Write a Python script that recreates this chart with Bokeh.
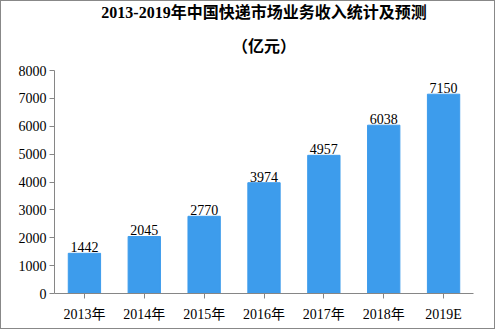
from bokeh.plotting import figure
from bokeh.models import Range1d, FixedTicker, ColumnDataSource, LabelSet, Title
from bokeh.embed import file_html
from bokeh.resources import INLINE

years = ["2013年", "2014年", "2015年", "2016年", "2017年", "2018年", "2019E"]
revenue = [1442, 2045, 2770, 3974, 4957, 6038, 7150]
y_ticks = [0, 1000, 2000, 3000, 4000, 5000, 6000, 7000, 8000]
title_line1 = "2013-2019年中国快递市场业务收入统计及预测"
title_line2 = "（亿元）"

FONT = "'Liberation Serif', 'Noto Sans CJK SC', serif"

src = ColumnDataSource(dict(x=years, y=revenue, lab=[str(v) for v in revenue]))

p = figure(width=495, height=329, x_range=years, y_range=Range1d(0, 8000),
           output_backend="svg", toolbar_location=None,
           min_border_left=53, min_border_right=23, min_border_top=0, min_border_bottom=37)

p.title.visible = False
t2 = Title(text=title_line2, align="center", text_font=FONT, text_font_size="16px",
           text_font_style="bold", text_color="#000000", standoff=31)
t1 = Title(text=title_line1, align="center", text_font=FONT, text_font_size="16px",
           text_font_style="bold", text_color="#000000", standoff=0)
p.add_layout(t2, "above")
p.add_layout(t1, "above")

p.vbar(x="x", top="y", width=0.54, source=src, color="#3d9cec")
p.add_layout(LabelSet(x="x", y="y", text="lab", source=src, text_align="center",
                      text_baseline="bottom", y_offset=1, text_font=FONT,
                      text_font_size="14px", text_color="#000000"))

p.grid.visible = False
p.outline_line_color = None
p.background_fill_color = "white"
p.border_fill_color = "white"

p.yaxis.ticker = FixedTicker(ticks=y_ticks)
p.yaxis.minor_tick_line_color = None
p.yaxis.major_tick_in = 0
p.yaxis.major_tick_out = 5
p.xaxis.major_tick_in = 0
p.xaxis.major_tick_out = 5
for ax in (p.xaxis, p.yaxis):
    ax.axis_line_color = "#868686"
    ax.major_tick_line_color = "#868686"
    ax.major_label_text_font = FONT
    ax.major_label_text_font_size = "14px"
    ax.major_label_text_color = "#000000"
p.xaxis.major_label_standoff = 8
p.yaxis.major_label_standoff = 3
p.x_range.range_padding = 0
p.styles = {"border": "1px solid #888888", "box-sizing": "border-box"}

open("out.html", "w").write(file_html(p, INLINE))
